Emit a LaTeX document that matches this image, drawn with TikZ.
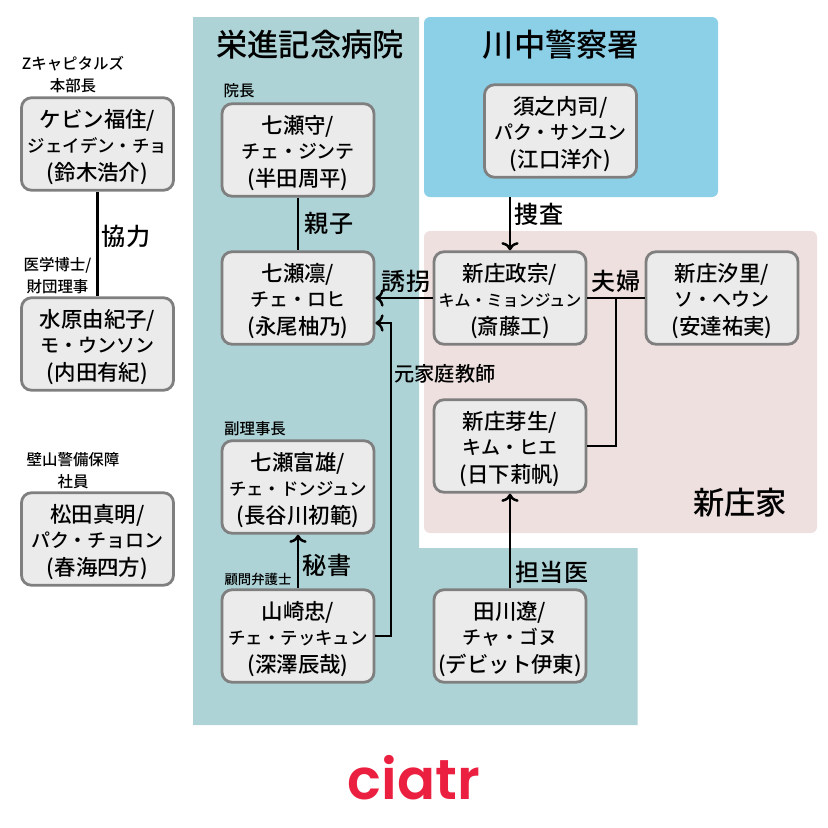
\documentclass[tikz,border=0pt]{standalone}
\usepackage{fontspec}
\setmainfont{Noto Sans CJK JP Medium}
\newfontfamily\logofont{Poppins SemiBold}
\usetikzlibrary{arrows.meta,positioning}
\definecolor{hospitalbg}{HTML}{AED3D6}
\definecolor{policebg}{HTML}{8CD0E8}
\definecolor{housebg}{HTML}{EFE0E0}
\definecolor{boxfill}{HTML}{EBEBEB}
\definecolor{boxline}{HTML}{7F7F7F}
\definecolor{logored}{HTML}{EB1F3F}
\newcommand{\subsize}{\fontsize{10.8}{15}\selectfont}
\newcommand{\longsub}{\fontsize{9.9}{15}\selectfont}
\newcommand{\tinysub}{\fontsize{9.1}{15}\selectfont}
\newcommand{\who}[4][\subsize]{\rule{0pt}{14pt}#2\\{#1\raisebox{1pt}{#3}}\\#4}
\tikzset{
	box/.style={draw=boxline,fill=boxfill,line width=1.6pt,rounded corners=.2cm,align=center,minimum width=3.04cm,minimum height=1.85cm,inner sep=0pt,font=\fontsize{12.2}{15}\selectfont},
	title/.style={font=\fontsize{17.8}{20}\selectfont},
	rel/.style={font=\fontsize{13.7}{16}\selectfont},
	post/.style={font=\fontsize{8.8}{12.5}\selectfont,align=center},
	link/.style={line width=1.4pt},
	every new ->/.style={shorten >=1pt}
}
\begin{document}
\begin{tikzpicture}
		\useasboundingbox (0,0) rectangle (16.56,-16.56);
		% regions
		\fill[hospitalbg] (3.86,-.34) -- (8.38,-.34) -- (8.38,-10.96) -- (12.75,-10.96) -- (12.75,-14.5) -- (3.86,-14.5) -- cycle;
		\fill[policebg,rounded corners=.12cm] (8.48,-.34) rectangle (14.36,-3.94);
		\fill[housebg,rounded corners=.12cm] (8.48,-4.62) rectangle (16.34,-10.66);
		
		\node[title] (hospitalname) at (6.2,-.9) {栄進記念病院};
		\node[title] (policename) at (11.22,-.9) {川中警察署};
		\node[title] (housename) at (14.8,-10.06) {新庄家};
		
		\node[box] (kevin) at (1.95,-2.88) {\who[\longsub]{ケビン福住/}{ジェイデン・チョ}{(鈴木浩介)}};
		\node[box] (mizuhara) at (1.95,-6.88) {\who{水原由紀子/}{モ・ウンソン}{(内田有紀)}};
		\node[box] (matsuda) at (1.95,-10.78) {\who{松田真明/}{パク・チョロン}{(春海四方)}};
		
		\node[box] (mamoru) at (5.96,-3) {\who{七瀬守/}{チェ・ジンテ}{(半田周平)}};
		\node[box] (rin) at (5.96,-5.96) {\who{七瀬凛/}{チェ・ロヒ}{(永尾柚乃)}};
		\node[box] (tomio) at (5.96,-9.74) {\who[\longsub]{七瀬富雄/}{チェ・ドンジュン}{(長谷川初範)}};
		\node[box] (yamazaki) at (5.96,-12.72) {\who[\longsub]{山崎忠/}{チェ・テッキュン}{(深澤辰哉)}};
		
		\node[box] (sunouchi) at (11.21,-2.62) {\who{須之内司/}{パク・サンユン}{(江口洋介)}};
		\node[box] (masamune) at (10.2,-5.96) {\who[\tinysub]{新庄政宗/}{キム・ミョンジュン}{(斎藤工)}};
		\node[box] (shiori) at (14.44,-5.96) {\who{新庄汐里/}{ソ・ヘウン}{(安達祐実)}};
		\node[box] (mebae) at (10.2,-8.92) {\who{新庄芽生/}{キム・ヒエ}{(日下莉帆)}};
		\node[box] (tagawa) at (10.2,-12.72) {\who{田川遼/}{チャ・ゴヌ}{(デビット伊東)}};
		
		\node[post] (kevinpost) at (1.46,-1.5) {Zキャピタルズ\\本部長};
		\node[post] (mizuharapost) at (1.15,-5.52) {医学博士/\\財団理事};
		\node[post] (matsudapost) at (1.46,-9.42) {壁山警備保障\\社員};
		\node[post] (mamorupost) at (4.78,-1.82) {院長};
		\node[post] (tomiopost) at (5.1,-8.58) {副理事長};
		\node[post,font=\fontsize{7.6}{10}\selectfont] (yamazakipost) at (5.16,-11.58) {顧問弁護士};
		
		\node[coordinate] (policeedge) at (10.2,-3.94) {}; % arrow starts on the police block
		\node[coordinate] (couple) at (12.32,-5.94) {}; % branch to the daughter
		\node[coordinate] (tutorup) at (7.82,-12.72) {};
		\node[coordinate] (tutorin) at (7.82,-6.46) {};
		
		\draw[link] (kevin) -- (mizuhara);
		\draw[link] (mamoru) -- (rin);
		\draw[link,->] (yamazaki) -- (tomio);
		\draw[link,->] (policeedge) -- (masamune);
		\draw[link,->] (masamune) -- (rin);
		\draw[link] (masamune) -- (shiori);
		\draw[link] (couple) |- (mebae);
		\draw[link,->] (tagawa) -- (mebae);
		\draw[link,->] (yamazaki.east) -- (tutorup) -- (tutorin) -- (tutorin -| rin.east);
		
		\node[rel] (cooperate) at (2.52,-4.72) {協力};
		\node[rel] (parent) at (6.58,-4.46) {親子};
		\node[rel] (kidnap) at (8.12,-5.62) {誘拐};
		\node[rel] (couplename) at (12.32,-5.62) {夫婦};
		\node[rel] (search) at (10.78,-4.28) {捜査};
		\node[rel] (secretary) at (6.54,-11.3) {秘書};
		\node[rel] (doctor) at (11.04,-11.44) {担当医};
		\node[font=\fontsize{11.5}{14}\selectfont] (tutor) at (8.9,-7.48) {元家庭教師};
		
		\node[font=\logofont\fontsize{32}{34}\selectfont,text=logored] (logo) at (8.28,-15.56) {ciatr};
	\end{tikzpicture}
\end{document}
